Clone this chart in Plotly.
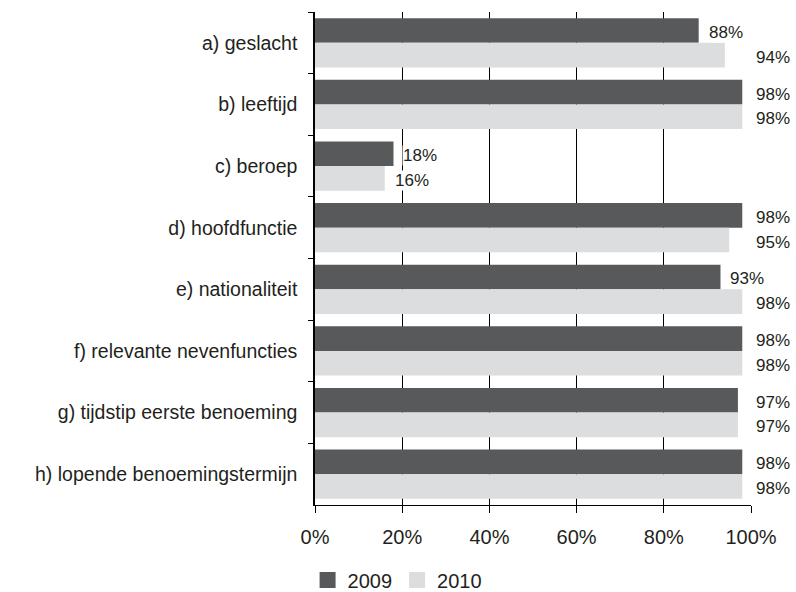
import plotly.graph_objects as go

categories = [
    "a) geslacht",
    "b) leeftijd",
    "c) beroep",
    "d) hoofdfunctie",
    "e) nationaliteit",
    "f) relevante nevenfuncties",
    "g) tijdstip eerste benoeming",
    "h) lopende benoemingstermijn",
]
values_2009 = [88, 98, 18, 98, 93, 98, 97, 98]
values_2010 = [94, 98, 16, 95, 98, 98, 97, 98]
series_names = ["2009", "2010"]
colors = ["#58595b", "#dcdddf"]
x_ticks = [0, 20, 40, 60, 80, 100]
x_tick_labels = ["0%", "20%", "40%", "60%", "80%", "100%"]

FONT = "Liberation Sans, Arial, Helvetica, sans-serif"
TXT = "#231f20"
X_MAX = 100

fig = go.Figure()
annotations = []
row_px = (592 - 12 - 87) / len(categories)
for i, (name, vals, col) in enumerate(zip(series_names, [values_2009, values_2010], colors)):
    fig.add_trace(go.Bar(
        y=categories, x=vals, orientation="h", name=name,
        marker=dict(color=col, line=dict(width=0)),
        showlegend=False, hoverinfo="skip",
    ))
    fig.add_trace(go.Scatter(
        x=[None], y=[None], mode="markers", name=name,
        marker=dict(symbol="square", size=21, color=col),
        showlegend=True,
    ))
    yshift = (0.2 if i == 0 else -0.2) * row_px - 2
    for cat, v in zip(categories, vals):
        # labels that would cross the 100% line are set just right of it
        if v >= 94:
            ax, xs = X_MAX, 4
        else:
            ax, xs = v, 9
        annotations.append(dict(
            x=ax, y=cat, xref="x", yref="y", text=f"{v}%", showarrow=False,
            xanchor="left", yanchor="middle", xshift=xs, yshift=yshift,
            font=dict(size=17, color=TXT, family=FONT),
            bgcolor="white", borderpad=0,
        ))

fig.update_layout(
    width=796, height=592,
    margin=dict(l=315, r=45, t=12, b=87, autoexpand=False),
    paper_bgcolor="white", plot_bgcolor="white",
    barmode="group", bargap=0.2, bargroupgap=0,
    font=dict(family=FONT, size=19.5, color=TXT),
    annotations=annotations,
    legend=dict(orientation="h", x=-0.017, xanchor="left", y=-0.152, yanchor="middle",
                font=dict(size=20, color=TXT), itemwidth=30,
                tracegroupgap=0, traceorder="normal"),
    xaxis=dict(range=[0, X_MAX], tickvals=x_ticks, ticktext=x_tick_labels,
               showgrid=True, gridcolor="black", gridwidth=1,
               showline=True, linecolor="black", linewidth=1,
               ticks="outside", ticklen=7, tickcolor="black",
               zeroline=False, tickfont=dict(size=20), ticklabelstandoff=7,
               fixedrange=True),
    yaxis=dict(autorange="reversed", type="category",
               showline=True, linecolor="black", linewidth=1.5,
               ticks="outside", tickson="boundaries", ticklen=5, tickcolor="black",
               showgrid=False, tickfont=dict(size=19.5), ticklabelstandoff=12),
)

fig.write_html("out.html")
